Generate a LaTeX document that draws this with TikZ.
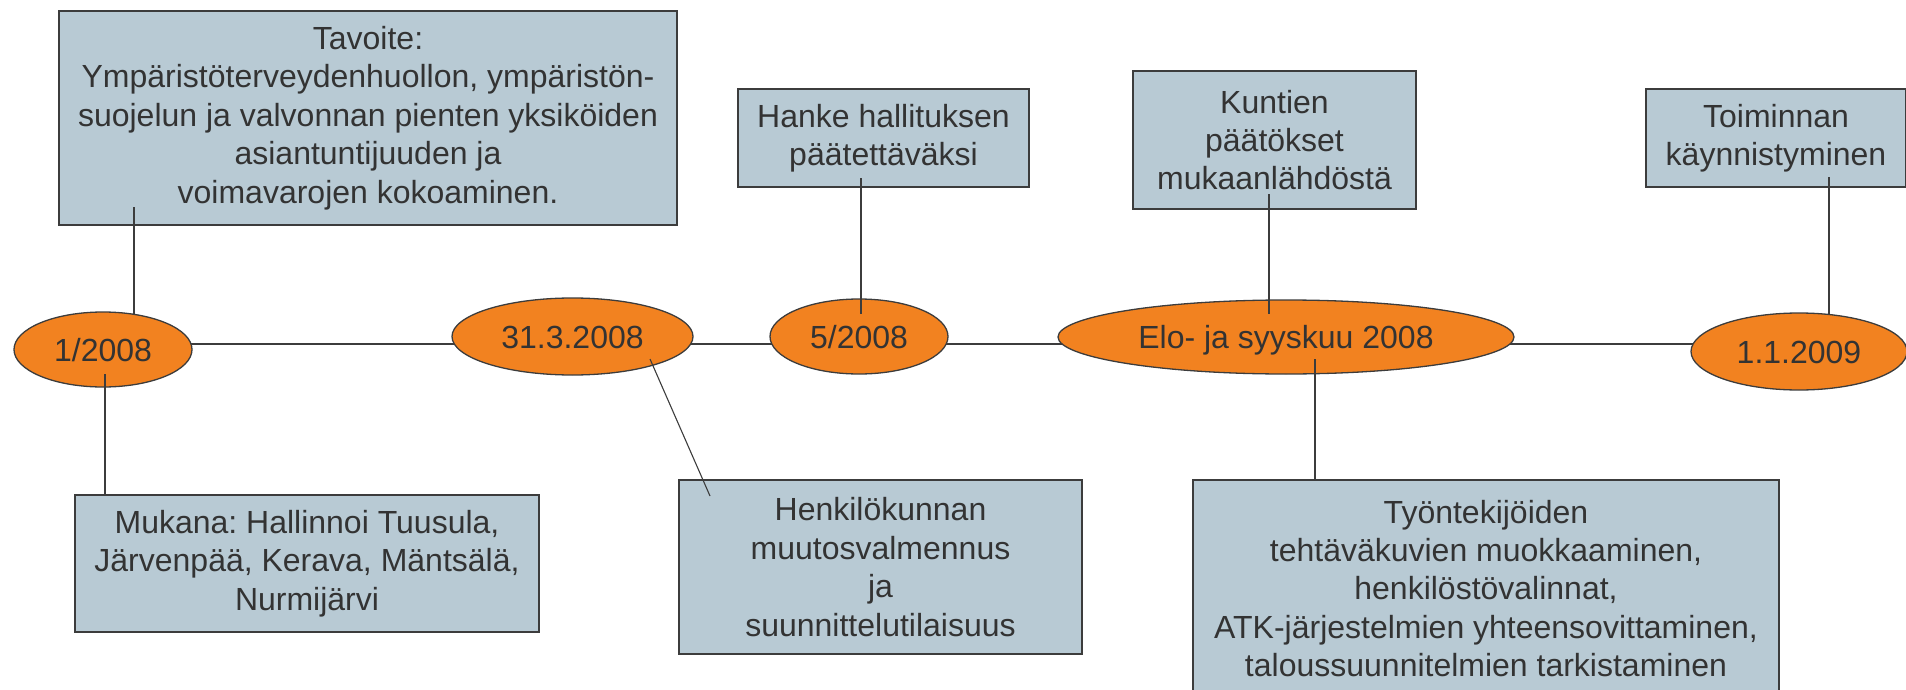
\documentclass[tikz,border=0pt]{standalone}
\usepackage{fontspec}
\setmainfont{Liberation Sans}
\usetikzlibrary{shapes.geometric,backgrounds}
\definecolor{boxfill}{RGB}{184,202,212}
\definecolor{ovalfill}{RGB}{242,130,32}
\definecolor{linec}{RGB}{60,60,60}
\definecolor{textc}{RGB}{51,51,51}
\frenchspacing
\begin{document}
\begin{tikzpicture}[x=1pt,y=-1pt,
  infobox/.style={rectangle, draw=linec, line width=1.3pt, fill=boxfill, text=textc,
    align=center, inner sep=0pt, font=\fontsize{32}{38.4}\selectfont},
  dateoval/.style={ellipse, draw=linec, line width=1.3pt, fill=ovalfill, text=textc,
    inner sep=0pt, text height=23pt, text depth=0pt, font=\fontsize{32}{36}\selectfont},
  link/.style={draw=linec, line width=1.1pt}]
\useasboundingbox (0,0) rectangle (1906,690);
\clip (0,0) rectangle (1906,690);

% info boxes
\node[infobox, minimum width=618pt, minimum height=214pt] (tav) at (368,118)
  {Tavoite:\\Ympäristöterveydenhuollon, ympäristön-\\suojelun ja valvonnan pienten yksiköiden\\asiantuntijuuden ja\\voimavarojen kokoaminen.};
\node[infobox, minimum width=464pt, minimum height=137pt] (muk) at (307,563.5)
  {Mukana: Hallinnoi Tuusula,\\Järvenpää, Kerava, Mäntsälä,\\Nurmijärvi};
\node[infobox, minimum width=291pt, minimum height=98pt] (hanke) at (883.5,138)
  {Hanke hallituksen\\päätettäväksi};
\node[infobox, minimum width=403pt, minimum height=174pt] (henk) at (880.5,567)
  {Henkilökunnan\\muutosvalmennus\\ja\\suunnittelutilaisuus};
\node[infobox, minimum width=283pt, minimum height=138pt] (kunt) at (1274.5,140)
  {Kuntien\\päätökset\\mukaanlähdöstä};
\node[infobox, minimum width=586pt, minimum height=217pt] (tyo) at (1486,588.5)
  {Työntekijöiden\\tehtäväkuvien muokkaaminen,\\henkilöstövalinnat,\\ATK-järjestelmien yhteensovittaminen,\\taloussuunnitelmien tarkistaminen};
\node[infobox, minimum width=260pt, minimum height=98pt] (toim) at (1776,138)
  {Toiminnan\\käynnistyminen};

% date ovals
\node[dateoval, minimum width=178pt, minimum height=75pt] (e1) at (103,349.5) {1/2008};
\node[dateoval, minimum width=241pt, minimum height=77pt] (e2) at (572.5,336.5) {31.3.2008};
\node[dateoval, minimum width=178pt, minimum height=75pt] (e3) at (859,336.5) {5/2008};
\node[dateoval, minimum width=456pt, minimum height=74pt] (e4) at (1286,337) {Elo- ja syyskuu 2008};
\node[dateoval, minimum width=216pt, minimum height=77pt] (e5) at (1799,351.5) {1.1.2009};

% timeline behind the ovals
\coordinate (tl) at (0,344);
\begin{pgfonlayer}{background}
  \draw[link] (e1.center |- tl) -- (e5.center |- tl);
\end{pgfonlayer}

% connector end points
\coordinate (a1) at (134,207);  \coordinate (a2) at (134,314);
\coordinate (b1) at (105,374);  \coordinate (b2) at (105,495);
\coordinate (c1) at (650,359);  \coordinate (c2) at (710,496);
\coordinate (d1) at (861,178);  \coordinate (d2) at (861,314);
\coordinate (f1) at (1269,194); \coordinate (f2) at (1269,314);
\coordinate (g1) at (1315,359); \coordinate (g2) at (1315,480);
\coordinate (h1) at (1829,177); \coordinate (h2) at (1829,315);

\draw[link] (a1) -- (a2);
\draw[link] (b1) -- (b2);
\draw[link] (c1) -- (c2);
\draw[link] (d1) -- (d2);
\draw[link] (f1) -- (f2);
\draw[link] (g1) -- (g2);
\draw[link] (h1) -- (h2);
\end{tikzpicture}
\end{document}
